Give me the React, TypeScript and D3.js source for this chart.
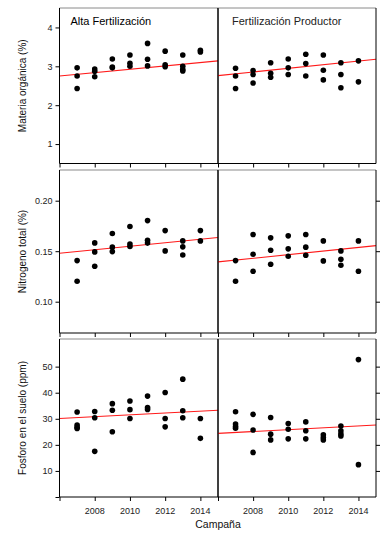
import React, { useEffect, useRef } from "react";
import * as d3 from "d3";

const years = [2007, 2008, 2009, 2010, 2011, 2012, 2013, 2014];
const xTicks = [2006, 2008, 2010, 2012, 2014];
const xLabels = [2008, 2010, 2012, 2014];
const panelTitles = ["Alta Fertilización", "Fertilización Productor"];
const rowTitles = ["Materia orgánica (%)", "Nitrogeno total (%)", "Fosforo en el suelo (ppm)"];

// values per campaign (one list per year)
const moAlta = [[2.96, 2.75, 2.43], [2.93, 2.87, 2.73], [3.19, 2.98, 2.96], [3.29, 3.08, 3.0], [3.59, 3.18, 3.01], [3.39, 3.04, 2.99], [3.29, 3.0, 2.92, 2.88], [3.41, 3.37]];
const moProd = [[2.95, 2.75, 2.43], [2.89, 2.79, 2.57], [3.09, 2.82, 2.72], [3.19, 2.96, 2.79], [3.31, 3.07, 2.75], [3.29, 2.9, 2.65], [3.09, 2.79, 2.45], [3.14, 2.6]];
const ntAlta = [[0.1407, 0.1203], [0.1582, 0.1493, 0.1351], [0.1675, 0.154, 0.1496], [0.1744, 0.1572, 0.1546], [0.1803, 0.1609, 0.158], [0.1704, 0.1503], [0.1602, 0.1543, 0.1463], [0.1704, 0.1602]];
const ntProd = [[0.1407, 0.1203], [0.1665, 0.147, 0.1302], [0.1632, 0.151, 0.1371], [0.1652, 0.1523, 0.145], [0.1665, 0.154, 0.146], [0.1602, 0.1404], [0.1503, 0.142, 0.1361], [0.1602, 0.1302]];
const pAlta = [[32.6, 27.6, 26.8, 26.3], [32.8, 30.4, 17.5], [35.8, 33.3, 25.0], [36.8, 33.5, 30.1], [38.7, 34.3, 33.6], [40.1, 30.1, 26.9], [45.2, 33.1, 30.4], [30.1, 22.5]];
const pProd = [[32.7, 28.0, 27.0, 26.4], [31.7, 25.7, 17.1], [30.5, 24.1, 21.9], [28.2, 26.0, 22.3], [28.8, 25.4, 22.3], [23.9, 22.8, 21.9], [27.2, 25.4, 24.2, 23.4], [52.7, 12.4]];

// regression line values at 2006 and 2015
const fitYears = [2006, 2015];
const moFitAlta = [2.75, 3.14];
const moFitProd = [2.76, 3.18];
const ntFitAlta = [0.148, 0.1635];
const ntFitProd = [0.1394, 0.1555];
const pFitAlta = [30.1, 33.3];
const pFitProd = [24.4, 27.6];

const moTicks = [1, 2, 3, 4];
const ntTicks = [0.1, 0.15, 0.2];
const pTicks = [0, 10, 20, 30, 40, 50];

const App = () => {
  const svgRef = useRef(null);

  useEffect(() => {
    const width = 386;
    const height = 542;
    const svg = d3.select(svgRef.current).attr("width", width).attr("height", height);
    svg.selectAll("*").remove();

    const font = "Liberation Sans, Arial, sans-serif";
    const cols = [
      [59.5, 218],
      [218, 376],
    ];
    const rows = [
      { y: [8, 163.5], domain: [0.5, 4.5], ticks: moTicks, fmt: d3.format("d"), data: [moAlta, moProd], fit: [moFitAlta, moFitProd], rightTicks: false },
      { y: [170, 333], domain: [0.069, 0.2304], ticks: ntTicks, fmt: d3.format(".2f"), data: [ntAlta, ntProd], fit: [ntFitAlta, ntFitProd], rightTicks: true },
      { y: [339, 497], domain: [0, 60.6], ticks: pTicks, fmt: (d) => (d === 0 ? "" : d3.format("d")(d)), data: [pAlta, pProd], fit: [pFitAlta, pFitProd], rightTicks: true },
    ];

    rows.forEach((row, ri) => {
      const yScale = d3.scaleLinear().domain(row.domain).range([row.y[1], row.y[0]]);

      cols.forEach((c, ci) => {
        const xScale = d3.scaleLinear().domain([2006, 2015]).range(c);
        const g = svg.append("g");

        // regression line
        const line = d3
          .line()
          .x((d) => xScale(d[0]))
          .y((d) => yScale(d[1]));
        g.append("path")
          .datum(fitYears.map((yr, i) => [yr, row.fit[ci][i]]))
          .attr("fill", "none")
          .attr("stroke", "#ff1a1a")
          .attr("stroke-width", 1.1)
          .attr("d", line);

        // points
        const pts = [];
        row.data[ci].forEach((vals, i) => vals.forEach((v) => pts.push([years[i], v])));
        g.selectAll(".dot")
          .data(pts)
          .enter()
          .append("circle")
          .attr("cx", (d) => xScale(d[0]))
          .attr("cy", (d) => yScale(d[1]))
          .attr("r", 2.8)
          .attr("fill", "#000");

        // bottom ticks
        g.append("g")
          .attr("transform", `translate(0,${row.y[1]})`)
          .call(d3.axisBottom(xScale).tickValues(xTicks).tickSize(4).tickFormat(() => ""))
          .call((a) => a.select(".domain").remove())
          .selectAll("line")
          .attr("stroke", "#000");

        if (ri === 2) {
          g.selectAll(".xl")
            .data(xLabels)
            .enter()
            .append("text")
            .attr("x", (d) => xScale(d))
            .attr("y", row.y[1] + 17)
            .attr("text-anchor", "middle")
            .style("font-family", font)
            .style("font-size", "9px")
            .attr("fill", "#222")
            .text((d) => d);
        }

        if (ri === 0) {
          g.append("text")
            .attr("x", c[0] + (ci === 0 ? 11 : 14))
            .attr("y", 25)
            .style("font-family", font)
            .style("font-size", "11px")
            .attr("fill", ci === 0 ? "#000" : "#222")
            .text(panelTitles[ci]);
        }

        // frame
        g.append("line").attr("x1", c[0]).attr("x2", c[1]).attr("y1", row.y[0]).attr("y2", row.y[0]).attr("stroke", "#8a8a8a").attr("stroke-width", 1);
        g.append("line").attr("x1", c[0]).attr("x2", c[1]).attr("y1", row.y[1]).attr("y2", row.y[1]).attr("stroke", "#000").attr("stroke-width", 1);
        g.append("line").attr("x1", c[0]).attr("x2", c[0]).attr("y1", row.y[0]).attr("y2", row.y[1]).attr("stroke", "#000").attr("stroke-width", 1);
        g.append("line").attr("x1", c[1]).attr("x2", c[1]).attr("y1", row.y[0]).attr("y2", row.y[1]).attr("stroke", "#000").attr("stroke-width", 1);
      });

      // left axis
      const left = svg
        .append("g")
        .attr("transform", `translate(${cols[0][0]},0)`)
        .call(d3.axisLeft(yScale).tickValues(row.ticks).tickSize(4).tickPadding(3).tickFormat(row.fmt));
      left.select(".domain").remove();
      left.selectAll("line").attr("stroke", "#000");
      left.selectAll("text").style("font-family", font).style("font-size", "9px").attr("fill", "#222");

      if (row.rightTicks) {
        const right = svg
          .append("g")
          .attr("transform", `translate(${cols[1][1]},0)`)
          .call(d3.axisRight(yScale).tickValues(row.ticks.filter((t) => t !== 0)).tickSize(4).tickFormat(() => ""));
        right.select(".domain").remove();
        right.selectAll("line").attr("stroke", "#000");
      }

      // row title
      const cy = (row.y[0] + row.y[1]) / 2 + (ri === 0 ? 0 : 0);
      svg
        .append("text")
        .attr("transform", `translate(25.5,${cy}) rotate(-90)`)
        .attr("text-anchor", "middle")
        .style("font-family", font)
        .style("font-size", "10px")
        .attr("fill", "#111")
        .text(rowTitles[ri]);
    });

    svg
      .append("text")
      .attr("x", 218)
      .attr("y", 528)
      .attr("text-anchor", "middle")
      .style("font-family", font)
      .style("font-size", "10.5px")
      .attr("fill", "#111")
      .text("Campaña");
  }, []);

  return (
    <div style={{ position: "absolute", left: 0, top: 0 }}>
      <svg ref={svgRef}></svg>
    </div>
  );
};

export default App;
